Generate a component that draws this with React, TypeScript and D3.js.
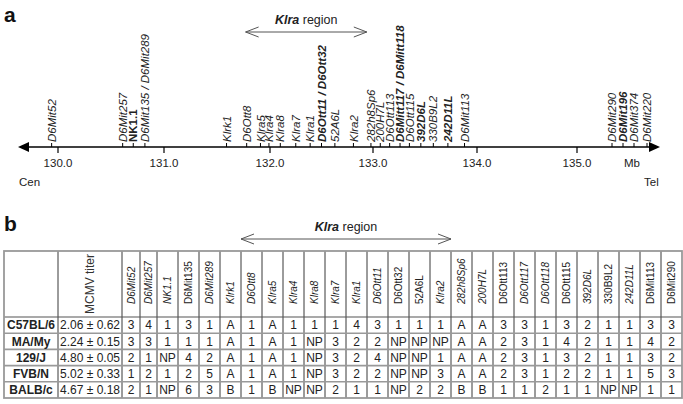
import React from "react";
import * as d3 from "d3";

// ---------- DATA ----------
const axisTicks = [130, 131, 132, 133, 134, 135];
const axisTickPx = [58, 164, 270, 373, 477, 577]; // calibration of the printed (non-uniform) axis

const mapMarkers = [
  "D6Mit52", "D6Mit257", "NK1.1", "D6Mit135 / D6Mit289", "Klrk1", "D6Ott8", "Klra5", "Klra4",
  "Klra8", "Klra7", "Klra1", "D6Ott11 / D6Ott32", "52A6L", "Klra2", "282h8Sp6", "200H7L",
  "D6Ott113", "D6Mitt117 / D6Mitt118", "D6Ott115", "392D6L", "330B9L2", "242D11L", "D6Mit113",
  "D6Mit290", "D6Mit196", "D6Mit374", "D6Mit220",
];
const mapPositionsMb = [
  129.94, 130.61, 130.71, 130.82, 131.59, 131.78, 131.91, 131.99,
  132.1, 132.25, 132.39, 132.5, 132.63, 132.81, 132.98, 133.07,
  133.16, 133.26, 133.35, 133.46, 133.58, 133.72, 133.88,
  135.35, 135.46, 135.57, 135.7,
];
const mapBoldMarkers = ["NK1.1", "D6Ott11 / D6Ott32", "D6Mitt117 / D6Mitt118", "392D6L", "242D11L", "D6Mit196"];
const mapUprightMarkers = ["NK1.1"];
const mapRegionMb = [131.77, 132.94];

const strains = ["C57BL/6", "MA/My", "129/J", "FVB/N", "BALB/c"];
const titerMean = [2.06, 2.24, 4.8, 5.02, 4.67];
const titerSd = [0.62, 0.15, 0.05, 0.33, 0.18];

const tableMarkers = [
  "D6Mit52", "D6Mit257", "NK1.1", "D6Mit135", "D6Mit289", "Klrk1", "D6Ott8", "Klra5", "Klra4",
  "Klra8", "Klra7", "Klra1", "D6Ott11", "D6Ott32", "52A6L", "Klra2", "282h8Sp6", "200H7L",
  "D6Ott113", "D6Ott117", "D6Ott118", "D6Ott115", "392D6L", "330B9L2", "242D11L", "D6Mit113", "D6Mit290",
];
const uprightHeaders = ["D6Mit135", "D6Ott32", "52A6L", "D6Ott113", "D6Ott115", "330B9L2", "D6Mit113", "D6Mit290"];

const allele_C57BL6 = ["3","4","1","3","1","A","1","A","1","1","1","4","3","1","1","1","A","A","3","3","1","3","2","1","1","3","3"];
const allele_MAMy   = ["3","3","1","1","1","A","1","A","1","NP","3","2","2","NP","NP","NP","A","A","2","3","1","4","2","1","1","4","2"];
const allele_129J   = ["2","1","NP","4","2","A","1","A","1","NP","3","2","4","NP","NP","1","A","A","2","3","1","3","2","1","1","3","2"];
const allele_FVBN   = ["1","2","1","2","5","A","1","A","1","NP","3","2","2","NP","NP","3","A","A","2","3","1","2","2","1","1","5","3"];
const allele_BALBc  = ["2","1","NP","6","3","B","1","B","NP","NP","2","1","1","NP","2","2","B","B","1","1","2","1","1","NP","NP","1","1"];
const alleles = [allele_C57BL6, allele_MAMy, allele_129J, allele_FVBN, allele_BALBc];

const regionFirst = "D6Ott8";
const regionLast = "Klra2";

// ---------- LAYOUT ----------
const W = 683, H = 404;
const FONT = "'Liberation Sans', Arial, Helvetica, sans-serif";
const axisY = 147;
const colWidths = [54, 64, 18, 17, ...d3.range(25).map(() => 21)];
const tableLeft = 4;
const tableTop = 251;
const headerBottom = 317;
const tableBottom = 398;

function Arrow2({ x1, x2, y }: { x1: number; x2: number; y: number }) {
  const L = 13, h = 5;
  return (
    <g stroke="#555" strokeWidth={1} fill="none">
      <line x1={x1} x2={x2} y1={y} y2={y} />
      <polyline points={`${x1 + L},${y - h} ${x1},${y} ${x1 + L},${y + h}`} />
      <polyline points={`${x2 - L},${y - h} ${x2},${y} ${x2 - L},${y + h}`} />
    </g>
  );
}

function RegionLabel({ x, y }: { x: number; y: number }) {
  return (
    <text x={x} y={y} textAnchor="middle" fontSize={12.5} fill="#222" fontFamily={FONT}>
      <tspan fontStyle="italic" fontWeight="bold">Klra</tspan>
      <tspan> region</tspan>
    </text>
  );
}

export default function App() {
  const x = d3.scaleLinear().domain(axisTicks).range(axisTickPx);

  const edges: number[] = [tableLeft];
  colWidths.forEach((w) => edges.push(edges[edges.length - 1] + w));
  const colCenter = (i: number) => (edges[i] + edges[i + 1]) / 2;
  const rowScale = d3.scaleBand<string>().domain(strains).range([headerBottom, tableBottom]);
  const fmt = d3.format(".2f");
  const regStart = edges[2 + tableMarkers.indexOf(regionFirst)];
  const regEnd = edges[3 + tableMarkers.indexOf(regionLast)];
  const right = edges[edges.length - 1];

  return (
    <svg width={W} height={H} style={{ position: "absolute", left: 0, top: 0, background: "#fff" }} fontFamily={FONT}>
      <rect width={W} height={H} fill="#fff" />
      {/* ---------- panel a ---------- */}
      <text x={4} y={22} fontSize={21} fontWeight="bold" fill="#111">a</text>
      <RegionLabel x={(x(mapRegionMb[0]) + x(mapRegionMb[1])) / 2} y={24} />
      <Arrow2 x1={x(mapRegionMb[0])} x2={x(mapRegionMb[1])} y={32} />

      <line x1={24} x2={654} y1={axisY} y2={axisY} stroke="#000" strokeWidth={1.5} />
      <path d={`M18,${axisY} L29,${axisY - 5} L29,${axisY + 5} Z`} fill="#000" />
      <path d={`M660,${axisY} L649,${axisY - 5} L649,${axisY + 5} Z`} fill="#000" />
      {axisTicks.map((t) => (
        <g key={t}>
          <line x1={x(t)} x2={x(t)} y1={axisY} y2={axisY + 6} stroke="#000" strokeWidth={1.2} />
          <text x={x(t)} y={167} textAnchor="middle" fontSize={11.5} fill="#222">{d3.format(".1f")(t)}</text>
        </g>
      ))}
      <text x={632} y={167} textAnchor="middle" fontSize={11.5} fill="#222">Mb</text>
      <text x={19} y={186} fontSize={11.5} fill="#222">Cen</text>
      <text x={644} y={186} fontSize={11.5} fill="#222">Tel</text>

      {mapMarkers.map((m, i) => {
        const px = x(mapPositionsMb[i]);
        const bold = mapBoldMarkers.includes(m);
        const upright = mapUprightMarkers.includes(m);
        return (
          <g key={m}>
            <line x1={px} x2={px} y1={axisY} y2={axisY - 4} stroke="#000" strokeWidth={1} />
            <text
              transform={`translate(${px},${axisY - 5}) rotate(-90)`}
              dy="0.36em"
              fontSize={11.5}
              fontStyle={upright ? "normal" : "italic"}
              fontWeight={bold ? "bold" : "normal"}
              fill="#222"
            >
              {m}
            </text>
          </g>
        );
      })}

      {/* ---------- panel b ---------- */}
      <text x={4} y={231} fontSize={21} fontWeight="bold" fill="#111">b</text>
      <RegionLabel x={(regStart + regEnd) / 2} y={231} />
      <Arrow2 x1={regStart} x2={regEnd} y={239} />

      {edges.slice(1, -1).map((e, i) => (
        <line key={"v" + i} x1={e} x2={e} y1={tableTop} y2={tableBottom} stroke="#222" strokeWidth={0.9} />
      ))}
      <line x1={tableLeft} x2={right} y1={headerBottom} y2={headerBottom} stroke="#555" strokeWidth={1.2} />
      {strains.slice(1).map((s) => (
        <line key={"h" + s} x1={tableLeft} x2={right} y1={rowScale(s)!} y2={rowScale(s)!} stroke="#999" strokeWidth={1.6} />
      ))}
      <rect x={tableLeft} y={tableTop} width={right - tableLeft} height={tableBottom - tableTop} fill="none" stroke="#999" strokeWidth={1.8} />

      <text transform={`translate(${colCenter(1)},${headerBottom - 3}) rotate(-90)`} dy="0.36em" fontSize={12} fill="#333">MCMV titer</text>
      {tableMarkers.map((m, j) => (
        <text
          key={"hd" + m}
          transform={`translate(${colCenter(j + 2)},${headerBottom - 13}) rotate(-90)`}
          dy="0.36em"
          fontSize={10}
          fontStyle={uprightHeaders.includes(m) ? "normal" : "italic"}
          fill="#222"
        >
          {m}
        </text>
      ))}

      {strains.map((s, r) => {
        const cy = rowScale(s)! + rowScale.bandwidth() / 2;
        return (
          <g key={"row" + s}>
            <text x={colCenter(0)} y={cy} dy="0.36em" textAnchor="middle" fontSize={12} fontWeight="bold" fill="#222">{s}</text>
            <text x={colCenter(1)} y={cy} dy="0.36em" textAnchor="middle" fontSize={12} fill="#222">{`${fmt(titerMean[r])} ± ${fmt(titerSd[r])}`}</text>
            {alleles[r].map((v, j) => (
              <text key={j} x={colCenter(j + 2)} y={cy} dy="0.36em" textAnchor="middle" fontSize={12} fill="#222">{v}</text>
            ))}
          </g>
        );
      })}
    </svg>
  );
}
